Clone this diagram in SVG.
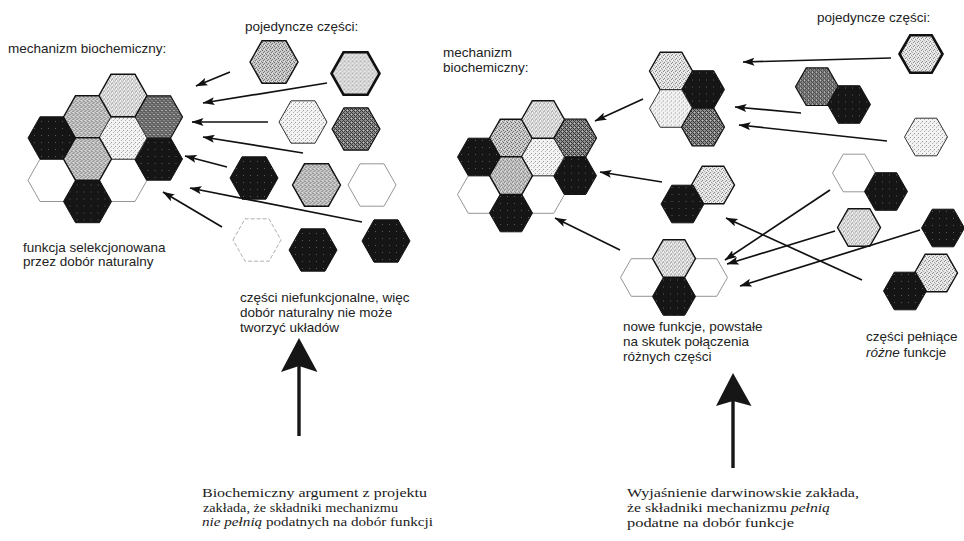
<svg xmlns="http://www.w3.org/2000/svg" xmlns:xlink="http://www.w3.org/1999/xlink" width="964" height="541" viewBox="0 0 964 541">
  <defs>
    <!-- halftone-like fills for the hexagonal parts -->
    <pattern id="pLt" patternUnits="userSpaceOnUse" width="4" height="4">
      <rect width="4" height="4" fill="#e6e6e6"/>
      <rect x="0" y="0" width="1" height="1" fill="#8a8a8a"/>
      <rect x="2" y="1" width="1" height="1" fill="#9a9a9a"/>
      <rect x="1" y="3" width="1" height="1" fill="#8a8a8a"/>
      <rect x="3" y="2" width="1" height="1" fill="#b0b0b0"/>
      <rect x="1" y="1" width="1" height="1" fill="#ffffff"/>
    </pattern>
    <pattern id="pVl" patternUnits="userSpaceOnUse" width="4" height="4">
      <rect width="4" height="4" fill="#f3f3f3"/>
      <rect x="0" y="0" width="1" height="1" fill="#9c9c9c"/>
      <rect x="2" y="2" width="1" height="1" fill="#b4b4b4"/>
      <rect x="3" y="1" width="1" height="1" fill="#d0d0d0"/>
    </pattern>
    <pattern id="pMd" patternUnits="userSpaceOnUse" width="4" height="4">
      <rect width="4" height="4" fill="#c9c9c9"/>
      <rect x="0" y="0" width="1" height="1" fill="#6a6a6a"/>
      <rect x="2" y="1" width="1" height="1" fill="#7a7a7a"/>
      <rect x="1" y="2" width="1" height="1" fill="#707070"/>
      <rect x="3" y="3" width="1" height="1" fill="#808080"/>
      <rect x="2" y="3" width="1" height="1" fill="#eeeeee"/>
    </pattern>
    <pattern id="pDk" patternUnits="userSpaceOnUse" width="4" height="4">
      <rect width="4" height="4" fill="#8c8c8c"/>
      <rect x="0" y="0" width="1" height="1" fill="#303030"/>
      <rect x="1" y="1" width="1" height="1" fill="#3c3c3c"/>
      <rect x="2" y="2" width="1" height="1" fill="#303030"/>
      <rect x="3" y="3" width="1" height="1" fill="#3c3c3c"/>
      <rect x="2" y="0" width="1" height="1" fill="#444444"/>
      <rect x="0" y="2" width="1" height="1" fill="#444444"/>
      <rect x="3" y="1" width="1" height="1" fill="#c4c4c4"/>
    </pattern>
    <pattern id="pBk" patternUnits="userSpaceOnUse" width="7" height="7">
      <rect width="7" height="7" fill="#151515"/>
      <rect x="3" y="4" width="1" height="1" fill="#5a5a5a"/>
    </pattern>

    <!-- hexagon outlines: large (left panel) and small (right panel) -->
    <path id="hexL" d="M-24,0 L-12,-21.2 L12,-21.2 L24,0 L12,21.2 L-12,21.2 Z"/>
    <path id="hexS" d="M-21.5,0 L-10.75,-18.8 L10.75,-18.8 L21.5,0 L10.75,18.8 L-10.75,18.8 Z"/>

    <marker id="ah" viewBox="0 0 12 8" refX="11.5" refY="4" markerWidth="12" markerHeight="8" markerUnits="userSpaceOnUse" orient="auto">
      <path d="M0,0 L12,4 L0,8 L2.5,4 Z" fill="#111"/>
    </marker>

    <style>
      .lt { fill: url(#pLt); stroke: #111; stroke-width: 1.4; }
      .vl { fill: url(#pVl); stroke: #333; stroke-width: 1; }
      .md { fill: url(#pMd); stroke: #111; stroke-width: 1.4; }
      .dk { fill: url(#pDk); stroke: #111; stroke-width: 1.2; }
      .bk { fill: url(#pBk); stroke: #151515; stroke-width: 1; }
      .wh { fill: #ffffff; stroke: #7a7a7a; stroke-width: 0.8; }
      .whd { fill: #ffffff; stroke: #9a9a9a; stroke-width: 0.8; stroke-dasharray: 4 2; }
      .thick { stroke-width: 2.6; }
      .conn line { stroke: #111; stroke-width: 1.7; fill: none; marker-end: url(#ah); }
      .big { fill: #161616; }
      .lbl { font-family: "Liberation Sans", Arial, sans-serif; font-size: 13.5px; fill: #222; }
      .cap { font-family: "Liberation Serif", "Times New Roman", serif; font-size: 13.5px; fill: #1a1a1a; }
      .it { font-style: italic; }
    </style>
  </defs>

  <rect width="964" height="541" fill="#ffffff"/>

  <!-- ===== left panel ===== -->
  <g id="mech-left">
    <use href="#hexL" x="52" y="180.3" class="wh"/>
    <use href="#hexL" x="123" y="180.3" class="wh"/>
    <use href="#hexL" x="52" y="138" class="bk"/>
    <use href="#hexL" x="158.5" y="159" class="bk"/>
    <use href="#hexL" x="87.5" y="201.5" class="bk"/>
    <use href="#hexL" x="87.5" y="117" class="md"/>
    <use href="#hexL" x="158.5" y="117" class="dk"/>
    <use href="#hexL" x="123" y="138" class="vl"/>
    <use href="#hexL" x="87.5" y="159" class="md"/>
    <use href="#hexL" x="123" y="95.5" class="lt"/>
  </g>

  <g id="part-l1"><use href="#hexL" x="274" y="62" class="md"/></g>
  <g id="part-l2"><use href="#hexL" x="355.5" y="73.5" class="lt thick"/></g>
  <g id="part-l3"><use href="#hexL" x="303" y="122" class="vl"/></g>
  <g id="part-l4"><use href="#hexL" x="356" y="129" class="dk"/></g>
  <g id="part-l5"><use href="#hexL" x="254" y="178" class="bk"/></g>
  <g id="part-l6"><use href="#hexL" x="316.5" y="185" class="md"/></g>
  <g id="part-l7"><use href="#hexL" x="372" y="185" class="wh"/></g>
  <g id="part-l8"><use href="#hexL" x="257" y="240" class="whd"/></g>
  <g id="part-l9"><use href="#hexL" x="313" y="250" class="bk"/></g>
  <g id="part-l10"><use href="#hexL" x="386" y="241" class="bk"/></g>

  <g id="connectors-left" class="conn">
    <line x1="230" y1="72" x2="196" y2="86"/>
    <line x1="327" y1="83" x2="203" y2="103"/>
    <line x1="268" y1="122" x2="192" y2="122"/>
    <line x1="303" y1="153" x2="203" y2="137"/>
    <line x1="227" y1="167" x2="185" y2="156"/>
    <line x1="362" y1="222" x2="190" y2="188"/>
    <line x1="222" y1="227" x2="163" y2="192"/>
  </g>

  <g id="labels-left">
    <text class="lbl" x="8" y="53">mechanizm biochemiczny:</text>
    <text class="lbl" x="245" y="31">pojedyncze części:</text>
    <text class="lbl" x="23" y="252">funkcja selekcjonowana</text>
    <text class="lbl" x="23" y="266">przez dobór naturalny</text>
    <text class="lbl" x="240" y="302">części niefunkcjonalne, więc</text>
    <text class="lbl" x="240" y="317">dobór naturalny nie może</text>
    <text class="lbl" x="240" y="332">tworzyć układów</text>
  </g>

  <g id="pointer-left">
    <polygon class="big" points="299,338 317.5,372 299,366 281,372"/>
    <rect class="big" x="297.3" y="364" width="3.4" height="72"/>
  </g>

  <g id="caption-left">
    <text class="cap" x="202" y="497" textLength="225" lengthAdjust="spacingAndGlyphs">Biochemiczny argument z projektu</text>
    <text class="cap" x="203" y="511.5" textLength="195" lengthAdjust="spacingAndGlyphs">zakłada, że składniki mechanizmu</text>
    <text class="cap" x="202" y="526" textLength="231" lengthAdjust="spacingAndGlyphs"><tspan class="it">nie pełnią</tspan> podatnych na dobór funkcji</text>
  </g>

  <!-- ===== right panel ===== -->
  <g id="mech-right">
    <use href="#hexS" x="479" y="194.5" class="wh"/>
    <use href="#hexS" x="543" y="194.5" class="wh"/>
    <use href="#hexS" x="479" y="157" class="bk"/>
    <use href="#hexS" x="575" y="175.7" class="bk"/>
    <use href="#hexS" x="511" y="213" class="bk"/>
    <use href="#hexS" x="511" y="138" class="md"/>
    <use href="#hexS" x="575" y="138" class="dk"/>
    <use href="#hexS" x="543" y="157" class="vl"/>
    <use href="#hexS" x="511" y="175.7" class="md"/>
    <use href="#hexS" x="543" y="119.5" class="lt"/>
  </g>

  <g id="group-r1">
    <use href="#hexS" x="703" y="89.5" class="bk"/>
    <use href="#hexS" x="671" y="71" class="lt"/>
    <use href="#hexS" x="671" y="108.5" class="vl"/>
    <use href="#hexS" x="703" y="127" class="dk"/>
  </g>
  <g id="group-r2">
    <use href="#hexS" x="817" y="86.7" class="dk"/>
    <use href="#hexS" x="849" y="104.5" class="bk"/>
  </g>
  <g id="part-r1"><use href="#hexS" x="921" y="54" class="lt thick"/></g>
  <g id="part-r2"><use href="#hexS" x="926" y="137" class="vl"/></g>
  <g id="group-r3">
    <use href="#hexS" x="854" y="173" class="wh"/>
    <use href="#hexS" x="886" y="191.5" class="bk"/>
  </g>
  <g id="group-r4">
    <use href="#hexS" x="713" y="185" class="lt"/>
    <use href="#hexS" x="682.5" y="204" class="bk"/>
  </g>
  <g id="part-r3"><use href="#hexS" x="859" y="227.5" class="lt"/></g>
  <g id="part-r4"><use href="#hexS" x="943" y="228" class="bk"/></g>
  <g id="group-r5">
    <use href="#hexS" x="936" y="273" class="lt"/>
    <use href="#hexS" x="905" y="291" class="bk"/>
  </g>
  <g id="group-new">
    <use href="#hexS" x="642" y="277.5" class="wh"/>
    <use href="#hexS" x="706" y="277.5" class="wh"/>
    <use href="#hexS" x="674" y="296.5" class="bk"/>
    <use href="#hexS" x="674" y="258.5" class="lt"/>
  </g>

  <g id="connectors-right" class="conn">
    <line x1="891" y1="58" x2="743" y2="62"/>
    <line x1="643" y1="99" x2="595" y2="121"/>
    <line x1="801" y1="113" x2="735" y2="107"/>
    <line x1="887" y1="141" x2="739" y2="125"/>
    <line x1="662" y1="182" x2="600" y2="172"/>
    <line x1="830" y1="190" x2="725" y2="260"/>
    <line x1="835" y1="231" x2="727" y2="264"/>
    <line x1="920" y1="230" x2="740" y2="286"/>
    <line x1="862" y1="280" x2="726" y2="218"/>
    <line x1="620" y1="250" x2="555" y2="218"/>
  </g>

  <g id="labels-right">
    <text class="lbl" x="443" y="57">mechanizm</text>
    <text class="lbl" x="443" y="72">biochemiczny:</text>
    <text class="lbl" x="817" y="22">pojedyncze części:</text>
    <text class="lbl" x="623" y="331">nowe funkcje, powstałe</text>
    <text class="lbl" x="623" y="346">na skutek połączenia</text>
    <text class="lbl" x="623" y="361">różnych części</text>
    <text class="lbl" x="866" y="341">części pełniące</text>
    <text class="lbl" x="866" y="357"><tspan class="it">różne</tspan> funkcje</text>
  </g>

  <g id="pointer-right">
    <polygon class="big" points="733,373 751.5,406 733,401 716,406"/>
    <rect class="big" x="731.3" y="399" width="3.4" height="69"/>
  </g>

  <g id="caption-right">
    <text class="cap" x="627" y="497" textLength="232" lengthAdjust="spacingAndGlyphs">Wyjaśnienie darwinowskie zakłada,</text>
    <text class="cap" x="627" y="512" textLength="203" lengthAdjust="spacingAndGlyphs">że składniki mechanizmu <tspan class="it">pełnią</tspan></text>
    <text class="cap" x="627" y="527" textLength="167" lengthAdjust="spacingAndGlyphs">podatne na dobór funkcje</text>
  </g>
</svg>
